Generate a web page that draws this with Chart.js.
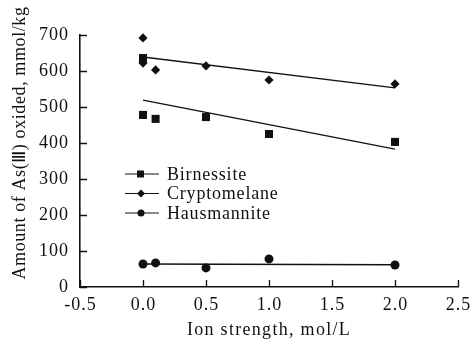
<!DOCTYPE html>
<html>
<head>
<meta charset="utf-8">
<script src="https://cdn.jsdelivr.net/npm/chart.js@4.4.1/dist/chart.umd.min.js"></script>
<style>
  html, body { margin: 0; padding: 0; background: #fff; }
  #chart { display: block; }
</style>
</head>
<body>
<canvas id="chart" width="471" height="344"></canvas>
<script>
// values
const xTickValues = [-0.5, 0, 0.5, 1.0, 1.5, 2.0, 2.5];
const yTickValues = [0, 100, 200, 300, 400, 500, 600, 700];

const ionStrength = [0, 0, 0.1, 0.5, 1.0, 2.0];
const birnessite = [636, 478, 467, 472, 425, 403];
const cryptomelane = [692, 622, 603, 614, 575, 564];

const hausIonStrength = [0, 0.1, 0.5, 1.0, 2.0];
const hausmannite = [64, 67, 53, 78, 61];

// fitted lines (end points)
const fitX = [0, 2.0];
const birnessiteFit = [519, 383];
const cryptomelaneFit = [639, 553];
const hausmanniteFit = [64, 62];

const seriesNames = ["Birnessite", "Cryptomelane", "Hausmannite"];
const seriesMarkers = ["rect", "rectRot", "circle"];

const FONT = "'Liberation Serif', 'Times New Roman', serif";
const INK = "#111";

const toPoints = (xs, ys) => xs.map((x, i) => ({ x, y: ys[i] }));

function scatterSet(label, xs, ys, style, radius) {
  return {
    type: "scatter", label, data: toPoints(xs, ys), clip: false,
    pointStyle: style, pointRadius: radius, pointHoverRadius: radius,
    backgroundColor: INK, borderColor: INK, borderWidth: 0, showLine: false,
  };
}

function fitSet(ys) {
  return {
    type: "line", label: "fit", data: toPoints(fitX, ys),
    borderColor: INK, borderWidth: 1.4, pointRadius: 0, fill: false, tension: 0,
  };
}

// ticks point inward, labels drawn a bit wider like the scanned figure
const frame = {
  id: "frame",
  afterDraw(chart) {
    const { ctx, chartArea: a, scales: { x, y } } = chart;
    ctx.save();
    ctx.strokeStyle = INK;
    ctx.fillStyle = INK;
    ctx.lineWidth = 1.3;
    ctx.beginPath();
    xTickValues.forEach((v) => {
      const px = Math.round(x.getPixelForValue(v)) + 0.5;
      ctx.moveTo(px, a.bottom);
      ctx.lineTo(px, a.bottom - 7);
    });
    yTickValues.forEach((v) => {
      const py = Math.round(y.getPixelForValue(v)) + 0.5;
      ctx.moveTo(a.left, py);
      ctx.lineTo(a.left + 7, py);
    });
    ctx.stroke();

    ctx.font = "18px " + FONT;
    ctx.letterSpacing = "1px";
    ctx.textBaseline = "middle";
    ctx.textAlign = "center";
    xTickValues.forEach((v) => ctx.fillText(v.toFixed(1), x.getPixelForValue(v) + 0.5, 305));
    ctx.textAlign = "right";
    yTickValues.forEach((v) => ctx.fillText(String(v), 69, y.getPixelForValue(v)));

    // legend
    ctx.textAlign = "left";
    ctx.letterSpacing = "0.8px";
    seriesNames.forEach((name, i) => {
      const ly = 174 + i * 19.5;
      ctx.lineWidth = 1.2;
      ctx.beginPath();
      ctx.moveTo(125, ly);
      ctx.lineTo(159, ly);
      ctx.stroke();
      ctx.beginPath();
      if (seriesMarkers[i] === "rect") {
        ctx.fillRect(137, ly - 3.5, 7, 7);
      } else if (seriesMarkers[i] === "rectRot") {
        ctx.moveTo(141, ly - 4); ctx.lineTo(145, ly); ctx.lineTo(141, ly + 4); ctx.lineTo(137, ly);
        ctx.closePath(); ctx.fill();
      } else {
        ctx.arc(141, ly, 3.5, 0, Math.PI * 2); ctx.fill();
      }
      ctx.fillText(name, 167, ly + 1);
    });

    // axis titles
    ctx.textAlign = "center";
    ctx.letterSpacing = "1.3px";
    ctx.fillText("Ion strength, mol/L", (a.left + a.right) / 2, 330);
    ctx.letterSpacing = "0.6px";
    ctx.translate(20, 143);
    ctx.rotate(-Math.PI / 2);
    ctx.fillText("Amount of As(\u2162) oxided, mmol/kg", 0, 0);
    ctx.restore();
  },
};

new Chart(document.getElementById("chart"), {
  data: {
    datasets: [
      fitSet(cryptomelaneFit),
      fitSet(birnessiteFit),
      fitSet(hausmanniteFit),
      scatterSet(seriesNames[0], ionStrength, birnessite, "rect", 5.7),
      scatterSet(seriesNames[1], ionStrength, cryptomelane, "rectRot", 4.6),
      scatterSet(seriesNames[2], hausIonStrength, hausmannite, "circle", 4.5),
    ],
  },
  options: {
    responsive: false,
    animation: false,
    devicePixelRatio: 1,
    layout: { padding: { top: 35, right: 13, left: 0, bottom: 0 } },
    plugins: { legend: { display: false }, tooltip: { enabled: false } },
    scales: {
      x: {
        type: "linear", min: -0.5, max: 2.5,
        afterBuildTicks: (s) => { s.ticks = xTickValues.map((value) => ({ value })); },
        afterFit: (s) => { s.height = 57; },
        grid: { display: false, drawTicks: false },
        border: { display: true, color: INK, width: 1.6 },
        ticks: { display: false },
      },
      y: {
        type: "linear", min: 0, max: 700,
        afterBuildTicks: (s) => { s.ticks = yTickValues.map((value) => ({ value })); },
        afterFit: (s) => { s.width = 80; },
        grid: { display: false, drawTicks: false },
        border: { display: true, color: INK, width: 1.6 },
        ticks: { display: false },
      },
    },
  },
  plugins: [frame],
});
</script>
</body>
</html>
